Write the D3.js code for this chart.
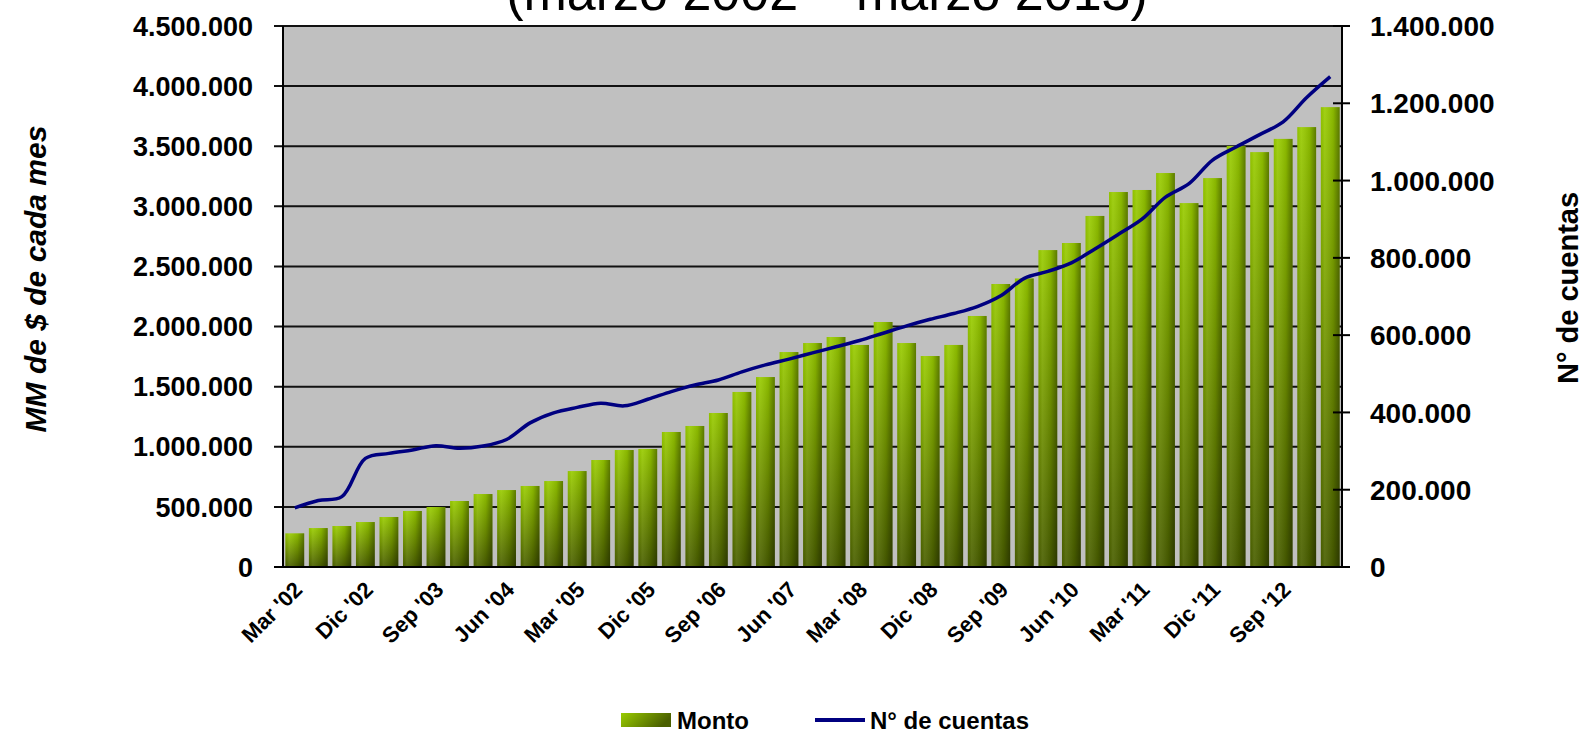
<!DOCTYPE html>
<html>
<head>
<meta charset="utf-8">
<script src="https://d3js.org/d3.v7.min.js"></script>
<style>
  body { margin: 0; background: white; }
  text { font-family: Arial, "Liberation Sans", sans-serif; }
</style>
</head>
<body>
<svg id="chart" width="1588" height="732"></svg>
<script>
// quarterly categories, Mar '02 .. Mar '13
const categories = ["Mar '02","Jun '02","Sep '02","Dic '02","Mar '03","Jun '03","Sep '03","Dic '03",
  "Mar '04","Jun '04","Sep '04","Dic '04","Mar '05","Jun '05","Sep '05","Dic '05",
  "Mar '06","Jun '06","Sep '06","Dic '06","Mar '07","Jun '07","Sep '07","Dic '07",
  "Mar '08","Jun '08","Sep '08","Dic '08","Mar '09","Jun '09","Sep '09","Dic '09",
  "Mar '10","Jun '10","Sep '10","Dic '10","Mar '11","Jun '11","Sep '11","Dic '11",
  "Mar '12","Jun '12","Sep '12","Dic '12","Mar '13"];

// labels shown on the x axis
const xTickLabels = ["Mar '02","Dic '02","Sep '03","Jun '04","Mar '05","Dic '05","Sep '06","Jun '07",
  "Mar '08","Dic '08","Sep '09","Jun '10","Mar '11","Dic '11","Sep '12"];

// Monto (MM de $), left axis
const monto = [280000,324000,341000,374000,416000,466000,499000,549000,
  607000,640000,674000,715000,798000,890000,973000,982000,
  1123000,1173000,1281000,1456000,1580000,1788000,1863000,1913000,
  1847000,2038000,1863000,1755000,1847000,2088000,2354000,2400000,
  2636000,2695000,2920000,3119000,3136000,3277000,3027000,3235000,
  3502000,3451000,3561000,3659000,3825000];

// N° de cuentas, right axis
const cuentas = [153000,172000,182000,281000,294000,303000,314000,307000,
  313000,330000,373000,399000,413000,424000,417000,434000,
  454000,471000,484000,505000,523000,538000,554000,570000,
  586000,605000,624000,641000,656000,674000,702000,747000,
  765000,787000,823000,861000,900000,957000,992000,1053000,
  1087000,1119000,1152000,1215000,1269000];

const leftTicks = [0,500000,1000000,1500000,2000000,2500000,3000000,3500000,4000000,4500000];
const rightTicks = [0,200000,400000,600000,800000,1000000,1200000,1400000];

const svg = d3.select("#chart");
const L = 283, R = 1342, T = 26, B = 567;

const loc = d3.formatLocale({decimal: ",", thousands: ".", grouping: [3], currency: ["$", ""]});
const fmt = loc.format(",d");

const x = d3.scaleBand().domain(categories).range([L, R]).paddingInner(0.2).paddingOuter(0.1);
const yL = d3.scaleLinear().domain([0, 4500000]).range([B, T]);
const yR = d3.scaleLinear().domain([0, 1400000]).range([B, T]);

// gradients
const defs = svg.append("defs");
const gv = defs.append("linearGradient").attr("id", "barV").attr("x1", 0).attr("y1", 0).attr("x2", 0).attr("y2", 1);
gv.append("stop").attr("offset", "0%").attr("stop-color", "#99cc00");
gv.append("stop").attr("offset", "55%").attr("stop-color", "#6f9000");
gv.append("stop").attr("offset", "100%").attr("stop-color", "#4a5f00");
const gh = defs.append("linearGradient").attr("id", "barH").attr("x1", 0).attr("y1", 0).attr("x2", 1).attr("y2", 0);
gh.append("stop").attr("offset", "0%").attr("stop-color", "#000").attr("stop-opacity", 0.05);
gh.append("stop").attr("offset", "20%").attr("stop-color", "#fff").attr("stop-opacity", 0.08);
gh.append("stop").attr("offset", "65%").attr("stop-color", "#000").attr("stop-opacity", 0.1);
gh.append("stop").attr("offset", "100%").attr("stop-color", "#000").attr("stop-opacity", 0.4);
const gl = defs.append("linearGradient").attr("id", "legSw").attr("x1", 0).attr("y1", 0).attr("x2", 1).attr("y2", 0.3);
gl.append("stop").attr("offset", "0%").attr("stop-color", "#99cc00");
gl.append("stop").attr("offset", "100%").attr("stop-color", "#4a5f00");

// plot background
svg.append("rect").attr("x", L).attr("y", T).attr("width", R - L).attr("height", B - T).attr("fill", "#c0c0c0");

// gridlines
svg.append("g").selectAll("line").data(leftTicks.slice(1)).join("line")
  .attr("x1", L - 9).attr("x2", R)
  .attr("y1", d => yL(d)).attr("y2", d => yL(d))
  .attr("stroke", "#111").attr("stroke-width", 2);

// bars
const bars = svg.append("g");
bars.selectAll("rect.b").data(monto).join("rect").attr("class", "b")
  .attr("x", (d, i) => x(categories[i])).attr("width", x.bandwidth())
  .attr("y", d => yL(d)).attr("height", d => B - yL(d))
  .attr("fill", "url(#barV)");
bars.selectAll("rect.s").data(monto).join("rect").attr("class", "s")
  .attr("x", (d, i) => x(categories[i])).attr("width", x.bandwidth())
  .attr("y", d => yL(d)).attr("height", d => B - yL(d))
  .attr("fill", "url(#barH)");

// axes lines
svg.append("line").attr("x1", L).attr("x2", L).attr("y1", T).attr("y2", B).attr("stroke", "#000").attr("stroke-width", 2);
svg.append("line").attr("x1", R).attr("x2", R).attr("y1", T).attr("y2", B).attr("stroke", "#000").attr("stroke-width", 2);
svg.append("line").attr("x1", L - 9).attr("x2", R + 8).attr("y1", B).attr("y2", B).attr("stroke", "#000").attr("stroke-width", 2);

// left tick labels
svg.append("g").selectAll("text").data(leftTicks).join("text")
  .attr("x", 253).attr("y", d => yL(d)).attr("dy", "0.36em")
  .attr("text-anchor", "end").attr("font-size", 27).attr("font-weight", "bold")
  .text(d => fmt(d));

// right ticks and labels
svg.append("g").selectAll("line").data(rightTicks).join("line")
  .attr("x1", R - 9).attr("x2", R + 8)
  .attr("y1", d => yR(d)).attr("y2", d => yR(d))
  .attr("stroke", "#000").attr("stroke-width", 2);
svg.append("g").selectAll("text").data(rightTicks).join("text")
  .attr("x", 1370).attr("y", d => yR(d)).attr("dy", "0.36em")
  .attr("text-anchor", "start").attr("font-size", 28).attr("font-weight", "bold")
  .text(d => fmt(d));

// x labels
svg.append("g").selectAll("text").data(xTickLabels).join("text")
  .attr("transform", d => `translate(${x(d) + x.bandwidth() / 2 + 9},${B + 24}) rotate(-45)`)
  .attr("text-anchor", "end").attr("font-size", 22).attr("font-weight", "bold")
  .text(d => d);

// line
const line = d3.line()
  .x((d, i) => x(categories[i]) + x.bandwidth() / 2)
  .y(d => yR(d))
  .curve(d3.curveCatmullRom.alpha(0.5));
svg.append("path").datum(cuentas).attr("d", line)
  .attr("fill", "none").attr("stroke", "#000080").attr("stroke-width", 3.5);

// titles
svg.append("text").attr("x", 827).attr("y", 10).attr("text-anchor", "middle")
  .attr("font-size", 52).text("(marzo 2002 – marzo 2013)");

svg.append("text").attr("transform", "translate(46,279) rotate(-90)")
  .attr("text-anchor", "middle").attr("font-size", 30).attr("font-weight", "bold").attr("font-style", "italic")
  .text("MM de $ de cada mes");

svg.append("text").attr("transform", "translate(1578,288) rotate(-90)")
  .attr("text-anchor", "middle").attr("font-size", 29).attr("font-weight", "bold")
  .text("N° de cuentas");

// legend
svg.append("rect").attr("x", 621).attr("y", 713).attr("width", 50).attr("height", 14).attr("fill", "url(#legSw)");
svg.append("text").attr("x", 677).attr("y", 729).attr("font-size", 24).attr("font-weight", "bold").text("Monto");
svg.append("line").attr("x1", 815).attr("x2", 865).attr("y1", 720).attr("y2", 720)
  .attr("stroke", "#000080").attr("stroke-width", 4);
svg.append("text").attr("x", 870).attr("y", 729).attr("font-size", 24).attr("font-weight", "bold").text("N° de cuentas");
</script>
</body>
</html>
